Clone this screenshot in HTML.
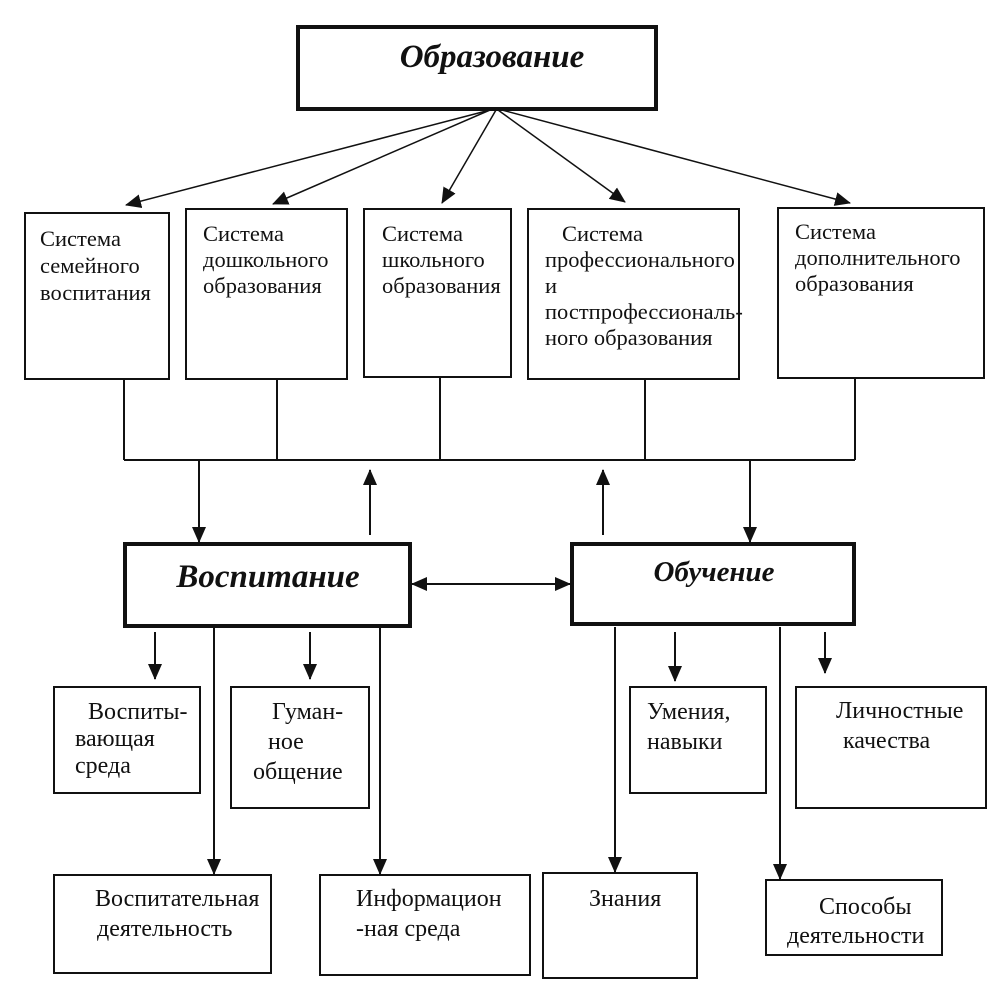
<!DOCTYPE html>
<html><head><meta charset="utf-8"><style>
html,body{margin:0;padding:0;background:#fff}
svg text{font-family:"Liberation Serif",serif;font-size:22.5px;fill:#111}
.s{font-size:24px}
.b{font-weight:bold;font-style:italic;font-size:33px}
</style></head><body>
<svg width="1006" height="990" viewBox="0 0 1006 990" xmlns="http://www.w3.org/2000/svg">
<defs>
<marker id="A" markerWidth="16" markerHeight="16" refX="15" refY="8" orient="auto" markerUnits="userSpaceOnUse" viewBox="0 0 16 16"><path d="M0,1 L16,8 L0,15 Z" fill="#111"/></marker></defs>
<g stroke="#111" fill="none">
<rect x="298" y="27" width="358" height="82" stroke-width="4"/>
<g stroke-width="2">
<rect x="25" y="213" width="144" height="166"/>
<rect x="186" y="209" width="161" height="170"/>
<rect x="364" y="209" width="147" height="168"/>
<rect x="528" y="209" width="211" height="170"/>
<rect x="778" y="208" width="206" height="170"/>
<rect x="54" y="687" width="146" height="106"/>
<rect x="231" y="687" width="138" height="121"/>
<rect x="630" y="687" width="136" height="106"/>
<rect x="796" y="687" width="190" height="121"/>
<rect x="54" y="875" width="217" height="98"/>
<rect x="320" y="875" width="210" height="100"/>
<rect x="543" y="873" width="154" height="105"/>
<rect x="766" y="880" width="176" height="75"/>
</g>
<rect x="125" y="544" width="285" height="82" stroke-width="4"/>
<rect x="572" y="544" width="282" height="80" stroke-width="4"/>
<g stroke-width="1.5" marker-end="url(#A)">
<line x1="490" y1="110" x2="126" y2="205"/>
<line x1="490" y1="110" x2="273" y2="204"/>
<line x1="496" y1="110" x2="442" y2="203"/>
<line x1="498" y1="110" x2="625" y2="202"/>
<line x1="502" y1="110" x2="850" y2="203"/>
</g>
<g stroke-width="2">
<line x1="124" y1="379" x2="124" y2="460"/>
<line x1="277" y1="379" x2="277" y2="460"/>
<line x1="440" y1="377" x2="440" y2="460"/>
<line x1="645" y1="379" x2="645" y2="460"/>
<line x1="855" y1="378" x2="855" y2="460"/>
<line x1="124" y1="460" x2="855" y2="460"/>
</g>
<g stroke-width="2" marker-end="url(#A)">
<line x1="199" y1="460" x2="199" y2="542"/>
<line x1="370" y1="535" x2="370" y2="470"/>
<line x1="603" y1="535" x2="603" y2="470"/>
<line x1="750" y1="460" x2="750" y2="542"/>
<line x1="490" y1="584" x2="412" y2="584"/>
<line x1="490" y1="584" x2="570" y2="584"/>
<line x1="155" y1="632" x2="155" y2="679"/>
<line x1="310" y1="632" x2="310" y2="679"/>
<line x1="675" y1="632" x2="675" y2="681"/>
<line x1="825" y1="632" x2="825" y2="673"/>
<line x1="214" y1="627" x2="214" y2="874"/>
<line x1="380" y1="627" x2="380" y2="874"/>
<line x1="615" y1="627" x2="615" y2="872"/>
<line x1="780" y1="627" x2="780" y2="879"/>
</g>
</g>
<text class="b" x="492" y="67" text-anchor="middle">Образование</text>
<text class="b" x="268" y="587" text-anchor="middle">Воспитание</text>
<text class="b" x="714" y="581" text-anchor="middle" style="font-size:29px">Обучение</text>
<text x="40" y="246">Система</text><text x="40" y="273">семейного</text><text x="40" y="300">воспитания</text>
<text x="203" y="241">Система</text><text x="203" y="267">дошкольного</text><text x="203" y="293">образования</text>
<text x="382" y="241">Система</text><text x="382" y="267">школьного</text><text x="382" y="293">образования</text>
<text x="562" y="241">Система</text><text x="545" y="267">профессионального</text><text x="545" y="293">и</text><text x="545" y="319">постпрофессиональ-</text><text x="545" y="345">ного образования</text>
<text x="795" y="239">Система</text><text x="795" y="265">дополнительного</text><text x="795" y="291">образования</text>
<g class="s">
<text class="s" x="88" y="719">Воспиты-</text><text class="s" x="75" y="746">вающая</text><text class="s" x="75" y="773">среда</text>
<text class="s" x="272" y="719">Гуман-</text><text class="s" x="268" y="749">ное</text><text class="s" x="253" y="779">общение</text>
<text class="s" x="647" y="719">Умения,</text><text class="s" x="647" y="749">навыки</text>
<text class="s" x="836" y="718">Личностные</text><text class="s" x="843" y="748">качества</text>
<text class="s" x="95" y="906">Воспитательная</text><text class="s" x="97" y="936">деятельность</text>
<text class="s" x="356" y="906">Информацион</text><text class="s" x="356" y="936">-ная среда</text>
<text class="s" x="589" y="906">Знания</text>
<text class="s" x="819" y="914">Способы</text><text class="s" x="787" y="943">деятельности</text>
</g>
</svg>
</body></html>
